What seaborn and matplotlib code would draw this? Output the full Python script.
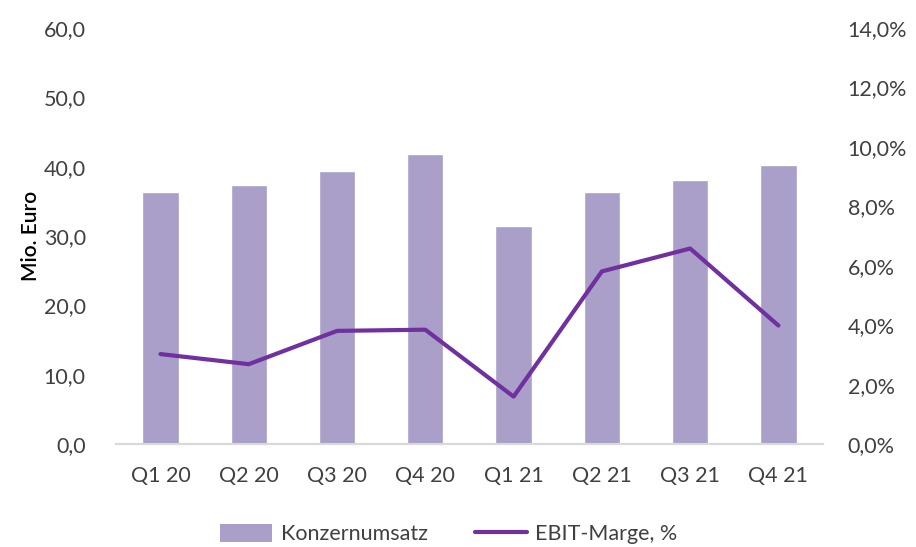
import matplotlib
matplotlib.use("Agg")
import matplotlib.pyplot as plt
import seaborn as sns
import numpy as np
import pandas as pd
from matplotlib.ticker import FuncFormatter, MultipleLocator
from matplotlib.patches import Patch
from matplotlib.lines import Line2D

# Daten
quarters = ["Q1 20", "Q2 20", "Q3 20", "Q4 20", "Q1 21", "Q2 21", "Q3 21", "Q4 21"]
umsatz = [36.3, 37.3, 39.4, 41.8, 31.4, 36.3, 38.1, 40.3]
ebit_marge = [3.03, 2.69, 3.81, 3.85, 1.60, 5.81, 6.58, 3.99]

bar_color = "#A99FC8"
line_color = "#7030A0"
text_color = "#404040"

sns.set_theme(style="white")
plt.rcParams['font.family'] = ['Lato', 'DejaVu Sans']

df = pd.DataFrame({"Quartal": quarters, "Umsatz": umsatz, "Marge": ebit_marge})

fig = plt.figure(figsize=(9.16, 5.47), dpi=100)
ax = fig.add_axes([0.127, 0.188, 0.771, 0.761])

sns.barplot(data=df, x="Quartal", y="Umsatz", color=bar_color, width=0.41,
            saturation=1, ax=ax)
ax.set_xlim(-0.5, len(quarters) - 0.5)
ax.set_ylim(0, 60)
ax.yaxis.set_major_locator(MultipleLocator(10))
ax.yaxis.set_major_formatter(FuncFormatter(lambda v, p: f"{v:.1f}".replace(".", ",")))
ax.set_xlabel("")
ax.set_ylabel("Mio. Euro", fontsize=15, color="black", labelpad=2, fontweight="semibold")

ax2 = ax.twinx()
sns.lineplot(x=np.arange(len(quarters)), y=ebit_marge, color=line_color,
             linewidth=3, sort=False, ax=ax2)
ax2.set_ylim(0, 14)
ax2.yaxis.set_major_locator(MultipleLocator(2))
ax2.yaxis.set_major_formatter(FuncFormatter(lambda v, p: f"{v:.1f}%".replace(".", ",")))

for a in (ax, ax2):
    for s in ["top", "right", "left"]:
        a.spines[s].set_visible(False)
    a.spines["bottom"].set_color("#D9D9D9")
    a.spines["bottom"].set_linewidth(1.5)
    a.tick_params(axis="both", length=0, labelsize=15.5, colors=text_color)
ax.tick_params(axis="x", pad=16)
ax.tick_params(axis="y", pad=22)
ax2.tick_params(axis="y", pad=18)

handles = [Patch(facecolor=bar_color, edgecolor="none", label="Konzernumsatz"),
           Line2D([0], [0], color=line_color, linewidth=3, label="EBIT-Marge, %")]
fig.legend(handles=handles, loc="lower center", bbox_to_anchor=(0.49, -0.03), ncol=2,
           frameon=False, fontsize=15.5, handlelength=2.4, handleheight=0.9,
           handletextpad=0.4, columnspacing=2.2, labelcolor=text_color)

fig.savefig("out.png", dpi=100)
